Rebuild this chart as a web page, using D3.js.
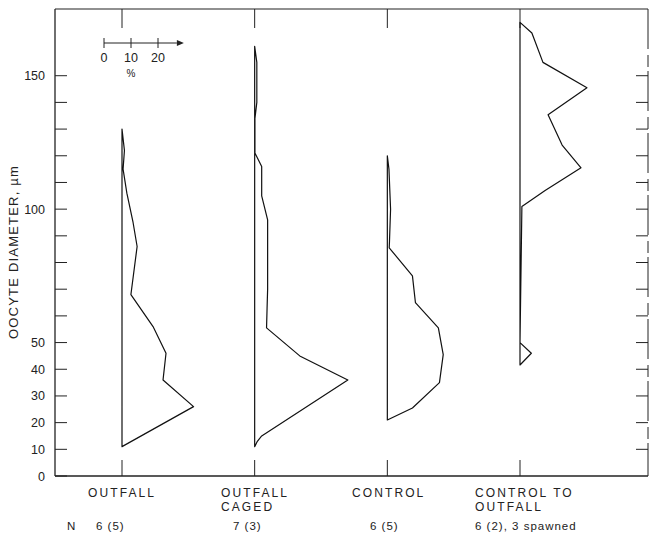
<!DOCTYPE html>
<html>
<head>
<meta charset="utf-8">
<script src="https://cdn.jsdelivr.net/npm/d3@7"></script>
<style>
  body { margin: 0; background: #fff; }
  svg { display: block; font-family: "Liberation Sans", Arial, sans-serif; }
  text { fill: #222; }
</style>
</head>
<body>
<svg width="651" height="533"></svg>
<script>
// Code goes here

// sites, left to right
var sites = ["OUTFALL", "OUTFALL CAGED", "CONTROL", "CONTROL TO OUTFALL"];
var siteLines = [["OUTFALL"], ["OUTFALL", "CAGED"], ["CONTROL"], ["CONTROL TO", "OUTFALL"]];
var nLabels = ["6 (5)", "7 (3)", "6 (5)", "6 (2), 3 spawned"];

// oocyte diameter (um) and % frequency along each profile
var outfallDiam = [11, 26, 36, 46, 56, 68, 86, 95, 106, 115, 122, 130];
var outfallPct  = [0, 26.5, 15.2, 16.3, 11.5, 3.3, 5.6, 4.1, 1.8, 0.4, 0.9, 0];

var cagedDiam = [11, 13, 15, 36, 45, 55.5, 63, 70, 96, 105, 116, 121, 134, 140, 155, 161];
var cagedPct  = [0, 1, 2.6, 34.5, 16.7, 4.4, 4.6, 4.8, 4.8, 2.6, 2.6, 0.1, 0.1, 0.8, 0.8, 0];

var controlDiam = [21, 25.5, 35, 45.5, 55.5, 65, 75, 85.5, 88, 100, 115, 120];
var controlPct  = [0, 9.3, 19.3, 20.7, 18.9, 10.4, 9.3, 0.7, 0.8, 1.2, 0.6, 0];

var transDiam = [41.6, 46, 50, 101, 107, 115.5, 124, 135.4, 145.5, 155, 166, 170];
var transPct  = [0, 4.2, 0, 0.7, 9.3, 22.6, 15.6, 10.4, 24.8, 8.5, 4.4, 0];

var profiles = [
  {diam: outfallDiam, pct: outfallPct},
  {diam: cagedDiam, pct: cagedPct},
  {diam: controlDiam, pct: controlPct},
  {diam: transDiam, pct: transPct}
];

var yTicks = [0, 10, 20, 30, 40, 50, 60, 70, 80, 90, 100, 110, 120, 130, 140, 150];
var yLabels = [0, 10, 20, 30, 40, 50, 100, 150];
var scaleTicks = [0, 10, 20];

window.onload = () => {

  var svg = d3.select("svg");

  var left = 55, right = 648, top = 9, bottom = 476;

  var y = d3.scaleLinear().domain([0, 175]).range([bottom, top]);
  // horizontal position of each profile's zero line
  var site = d3.scalePoint().domain(sites).range([122, 520]);
  // percent to pixels (same for every profile)
  var pct = d3.scaleLinear().domain([0, 30]).range([0, 81]);

  //###############################################
  // Frame
  //###############################################

  var frame = svg.append("g").attr("stroke", "#222").attr("fill", "none");
  frame.append("line").attr("x1", left).attr("x2", right).attr("y1", top).attr("y2", top).attr("stroke-width", 1.2);
  frame.append("line").attr("x1", left).attr("x2", right).attr("y1", bottom).attr("y2", bottom).attr("stroke-width", 1.3);
  frame.append("line").attr("x1", left).attr("x2", left).attr("y1", top).attr("y2", bottom).attr("stroke-width", 1.3);
  frame.append("line").attr("x1", right).attr("x2", right).attr("y1", top).attr("y2", bottom)
    .attr("stroke-width", 1).attr("stroke-dasharray", "40,6,12,4");

  // left axis ticks point inward
  frame.selectAll(".ytl").data(yTicks).enter().append("line")
    .attr("x1", left).attr("x2", left + 12)
    .attr("y1", d => y(d)).attr("y2", d => y(d));
  // right axis ticks point inward
  frame.selectAll(".ytr").data(yTicks.filter(d => d > 0)).enter().append("line")
    .attr("x1", right - 12).attr("x2", right)
    .attr("y1", d => y(d)).attr("y2", d => y(d));

  // marks at each profile's zero on top and bottom edges
  frame.selectAll(".tt").data(sites).enter().append("line")
    .attr("x1", d => site(d)).attr("x2", d => site(d))
    .attr("y1", top).attr("y2", top + 19);
  frame.selectAll(".bt").data(sites).enter().append("line")
    .attr("x1", d => site(d)).attr("x2", d => site(d))
    .attr("y1", bottom).attr("y2", bottom - 16);

  svg.selectAll(".yl").data(yLabels).enter().append("text")
    .attr("x", 45).attr("y", d => y(d)).attr("dy", "0.36em")
    .attr("text-anchor", "end").style("font-size", "12.5px")
    .text(d => d);

  svg.append("text")
    .attr("transform", "translate(18,252) rotate(-90)")
    .attr("text-anchor", "middle").style("font-size", "13px").style("letter-spacing", "1.2px")
    .text("OOCYTE DIAMETER, µm");

  //###############################################
  // Profiles
  //###############################################

  var line = d3.line().x(d => d[0]).y(d => d[1]);

  profiles.forEach(function(p, i) {
    var x0 = site(sites[i]);
    var pts = p.diam.map((d, j) => [x0 + pct(p.pct[j]), y(d)]);
    pts.push([x0, y(p.diam[p.diam.length - 1])]);
    pts.push([x0, y(p.diam[0])]);
    svg.append("path")
      .attr("d", line(pts) + "Z")
      .attr("fill", "none").attr("stroke", "#111").attr("stroke-width", 1.2)
      .attr("stroke-linejoin", "round");
  });

  //###############################################
  // Percent scale bar
  //###############################################

  var sb = svg.append("g").attr("transform", "translate(104,43)");
  sb.append("line").attr("x1", 0).attr("x2", pct(27)).attr("y1", 0).attr("y2", 0).attr("stroke", "#222");
  sb.append("path").attr("d", "M" + pct(27) + ",-3L" + (pct(27) + 7) + ",0L" + pct(27) + ",3Z").attr("fill", "#222");
  sb.selectAll(".st").data(scaleTicks).enter().append("line")
    .attr("x1", d => pct(d)).attr("x2", d => pct(d)).attr("y1", -5).attr("y2", 5)
    .attr("stroke", "#222");
  sb.selectAll(".sl").data(scaleTicks).enter().append("text")
    .attr("x", d => pct(d)).attr("y", 19).attr("text-anchor", "middle")
    .style("font-size", "12.5px").text(d => d);
  sb.append("text").attr("x", pct(10)).attr("y", 34).attr("text-anchor", "middle")
    .style("font-size", "10px").text("%");

  //###############################################
  // Bottom labels
  //###############################################

  var labelX = [88, 221, 352, 475];
  var nX = [96, 233, 370, 475];

  siteLines.forEach(function(lines, i) {
    lines.forEach(function(t, k) {
      svg.append("text")
        .attr("x", labelX[i]).attr("y", 497 + k * 14)
        .style("font-size", "12px").style("letter-spacing", "2.1px")
        .text(t);
    });
  });

  svg.append("text").attr("x", 67).attr("y", 530).style("font-size", "11.5px").text("N");
  svg.selectAll(".nl").data(nLabels).enter().append("text")
    .attr("x", (d, i) => nX[i]).attr("y", 530)
    .style("font-size", "11.5px").style("letter-spacing", "1px")
    .text(d => d);

}
</script>
</body>
</html>
